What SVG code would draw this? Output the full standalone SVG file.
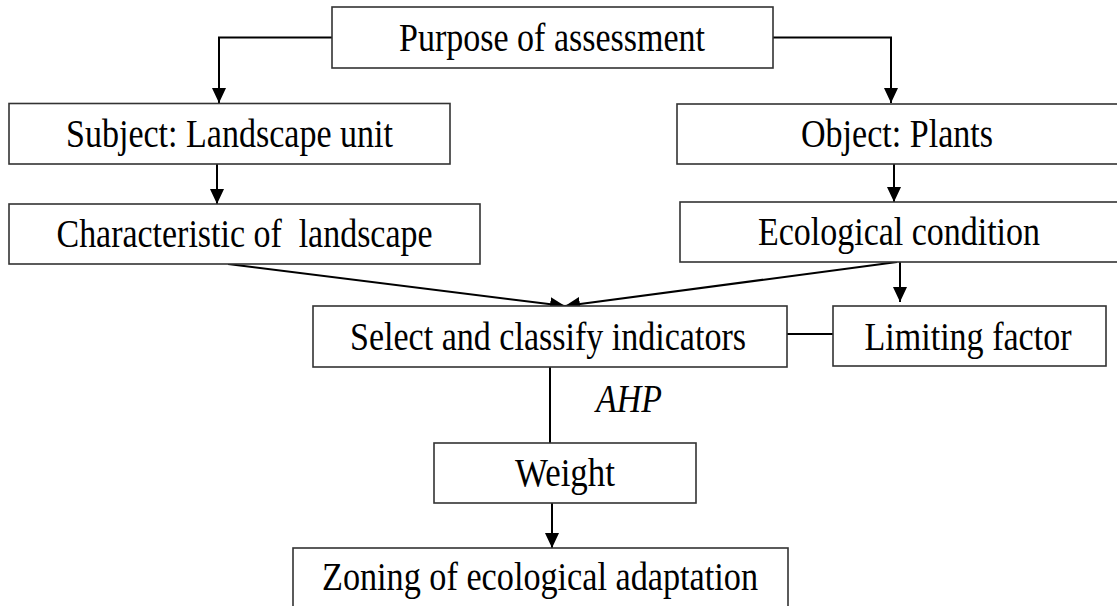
<svg xmlns="http://www.w3.org/2000/svg" width="1117" height="606" viewBox="0 0 1117 606">
  <style>
    .box { fill: #fff; stroke: #333; stroke-width: 1.6; }
    .lbl { font-family: "Liberation Serif", "Times New Roman", serif; font-size: 39px; fill: #000; text-anchor: middle; }
    .it { font-style: italic; }
    .edge { fill: none; stroke: #000; stroke-width: 2; }
  </style>
  <defs>
    <marker id="arr" markerUnits="userSpaceOnUse" markerWidth="15" markerHeight="14" refX="15" refY="7" orient="auto">
      <path d="M0,0 L15,7 L0,14 z" fill="#000"/>
    </marker>
  </defs>
  <rect width="1117" height="606" fill="#fff"/>
  <g id="connectors">
    <path class="edge" d="M332,37.5 H219 V103" marker-end="url(#arr)"/>
    <path class="edge" d="M773,37.5 H891 V103" marker-end="url(#arr)"/>
    <path class="edge" d="M217,164 V204" marker-end="url(#arr)"/>
    <path class="edge" d="M894,164 V202" marker-end="url(#arr)"/>
    <path class="edge" d="M228,264 L565,306" marker-end="url(#arr)"/>
    <path class="edge" d="M897,262 L565,306" marker-end="url(#arr)"/>
    <path class="edge" d="M900,262 V302" marker-end="url(#arr)"/>
    <path class="edge" d="M787,334 H833"/>
    <path class="edge" d="M550,367 V443"/>
    <path class="edge" d="M552,503 V548" marker-end="url(#arr)"/>
  </g>
  <g id="purpose">
    <rect class="box" x="332" y="7" width="441" height="61"/>
    <text class="lbl" x="552" y="51" textLength="306" lengthAdjust="spacingAndGlyphs">Purpose of assessment</text>
  </g>
  <g id="subject">
    <rect class="box" x="9" y="103.5" width="441" height="60.5"/>
    <text class="lbl" x="229.5" y="147" textLength="327" lengthAdjust="spacingAndGlyphs">Subject: Landscape unit</text>
  </g>
  <g id="object">
    <rect class="box" x="677" y="104" width="460" height="60"/>
    <text class="lbl" x="897" y="147" textLength="192" lengthAdjust="spacingAndGlyphs">Object: Plants</text>
  </g>
  <g id="characteristic">
    <rect class="box" x="9" y="204" width="471" height="60"/>
    <text class="lbl" x="244.5" y="247" textLength="376" lengthAdjust="spacingAndGlyphs" xml:space="preserve">Characteristic of  landscape</text>
  </g>
  <g id="ecological">
    <rect class="box" x="680" y="202" width="460" height="60"/>
    <text class="lbl" x="899" y="245" textLength="282" lengthAdjust="spacingAndGlyphs">Ecological condition</text>
  </g>
  <g id="select">
    <rect class="box" x="313" y="306" width="474" height="61"/>
    <text class="lbl" x="548" y="349.5" textLength="396" lengthAdjust="spacingAndGlyphs">Select and classify indicators</text>
  </g>
  <g id="limiting">
    <rect class="box" x="833" y="306" width="273" height="60"/>
    <text class="lbl" x="968" y="349.5" textLength="207" lengthAdjust="spacingAndGlyphs">Limiting factor</text>
  </g>
  <g id="ahp">
    <text class="lbl it" x="629" y="412" textLength="66" lengthAdjust="spacingAndGlyphs">AHP</text>
  </g>
  <g id="weight">
    <rect class="box" x="434" y="443" width="262" height="60"/>
    <text class="lbl" x="565" y="486" textLength="100" lengthAdjust="spacingAndGlyphs">Weight</text>
  </g>
  <g id="zoning">
    <rect class="box" x="293" y="548" width="495" height="80"/>
    <text class="lbl" x="540" y="590" textLength="436" lengthAdjust="spacingAndGlyphs">Zoning of ecological adaptation</text>
  </g>
</svg>
